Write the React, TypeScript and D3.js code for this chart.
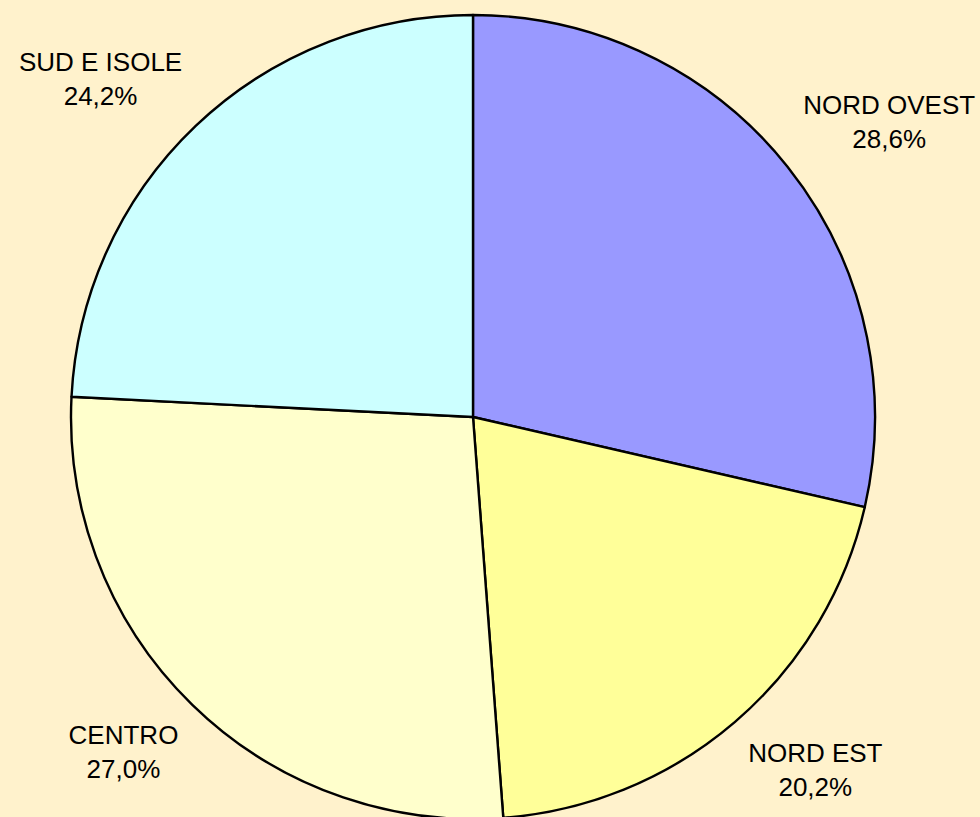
import React, { useEffect, useRef } from "react";
import * as d3 from "d3";

const regions: string[] = ["NORD OVEST", "NORD EST", "CENTRO", "SUD E ISOLE"];
const shares: number[] = [28.6, 20.2, 27.0, 24.2];
const fills: string[] = ["#9999FF", "#FFFF99", "#FFFFCC", "#CCFFFF"];

const width = 980;
const height = 817;
const cx = 473;
const cy = 417;
const radius = 402;
const labelGap = 20;
const fontSize = 26;
const lineGap = 34;
const padY = 6;

const fmt = (v: number) => v.toFixed(1).replace(".", ",") + "%";

const App = () => {
  const ref = useRef<SVGSVGElement>(null);

  useEffect(() => {
    document.body.style.margin = "0";
    const svg = d3.select(ref.current);
    svg.selectAll("*").remove();

    svg
      .append("rect")
      .attr("width", width)
      .attr("height", height)
      .attr("fill", "#FFF2CC");

    const pie = d3
      .pie<number>()
      .sort(null)
      .value((d) => d);
    const arcs = pie(shares);

    const arc: any = d3.arc().innerRadius(0).outerRadius(radius);

    const g = svg.append("g").attr("transform", `translate(${cx},${cy})`);

    g.selectAll(".slice")
      .data(arcs)
      .enter()
      .append("path")
      .attr("class", "slice")
      .attr("d", arc)
      .attr("fill", (d, i) => fills[i])
      .attr("stroke", "#000")
      .attr("stroke-width", 2.4)
      .attr("stroke-linejoin", "round");

    // labels sit outside, box corner touching a point just beyond the rim
    arcs.forEach((a, i) => {
      const mid = (a.startAngle + a.endAngle) / 2;
      const sx = Math.sin(mid);
      const sy = -Math.cos(mid);
      const px = (radius + labelGap) * sx;
      const py = (radius + labelGap) * sy;

      const t = g
        .append("text")
        .attr("font-family", "'Liberation Sans', Arial, sans-serif")
        .attr("font-size", fontSize)
        .attr("fill", "#000")
        .attr("text-anchor", "middle");
      t.append("tspan").attr("x", 0).attr("y", 0).text(regions[i]);
      t.append("tspan").attr("x", 0).attr("y", lineGap).text(fmt(shares[i]));

      const bb = (t.node() as SVGTextElement).getBBox();
      const w = bb.width;
      const capTop = -fontSize * 0.72;
      const h = lineGap - capTop + padY * 2;
      const boxCx = px + Math.sign(sx) * (w / 2);
      const boxCy = py + Math.sign(sy) * (h / 2);
      const dy = boxCy - (capTop + (lineGap - capTop) / 2);
      t.attr("transform", `translate(${boxCx},${dy})`);
    });
  }, []);

  return <svg ref={ref} width={width} height={height} style={{ display: "block" }}></svg>;
};

export default App;
